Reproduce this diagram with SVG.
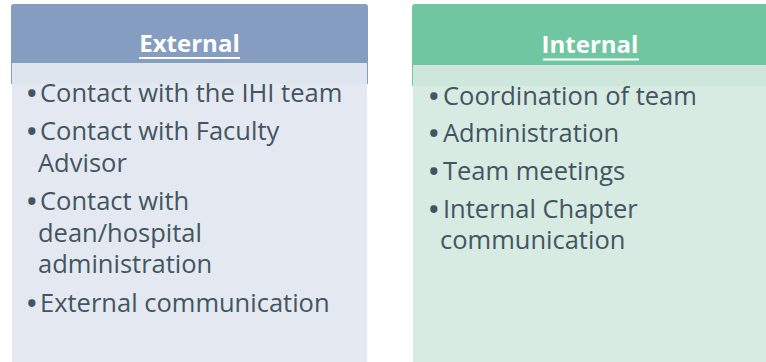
<svg xmlns="http://www.w3.org/2000/svg" width="766" height="362" viewBox="0 0 766 362">
<style>
.hdr{font-family:"Open Sans","Liberation Sans",sans-serif;font-weight:bold;font-size:24px;fill:#ffffff;text-anchor:middle}
.ul{stroke:#ffffff;stroke-width:2}
.item{font-family:"Open Sans","Liberation Sans",sans-serif;font-size:25.5px;fill:#435560}
.bul{font-weight:bold}
</style>
<rect width="766" height="362" fill="#ffffff"/>
<g id="external">
  <path d="M11,7 a3,3 0 0 1 3,-3 h351 a3,3 0 0 1 3,3 v77 h-357 z" fill="#849DC1"/>
  <rect x="12" y="63" width="355" height="299" fill="#E3E8F0" fill-opacity="0.96"/>
  <text class="hdr" x="189.5" y="52">External</text>
  <line class="ul" x1="139" y1="58" x2="240" y2="58"/>
  <text class="item" x="27" y="101.5"><tspan class="bul">•</tspan><tspan x="40">Contact with the IHI team</tspan><tspan class="bul" x="27" dy="38.5">•</tspan><tspan x="40">Contact with Faculty</tspan><tspan x="38" dy="32">Advisor</tspan><tspan class="bul" x="27" dy="38">•</tspan><tspan x="40">Contact with</tspan><tspan x="38" dy="31.5">dean/hospital</tspan><tspan x="38" dy="31.5">administration</tspan><tspan class="bul" x="27" dy="39">•</tspan><tspan x="40">External communication</tspan></text>
</g>
<g id="internal">
  <path d="M412,7 a3,3 0 0 1 3,-3 h351 v82 h-354 z" fill="#70C6A1"/>
  <rect x="413" y="65" width="353" height="297" fill="#D4EAE1" fill-opacity="0.93"/>
  <text class="hdr" x="590" y="53">Internal</text>
  <line class="ul" x1="543" y1="59.5" x2="639" y2="59.5"/>
  <text class="item" x="429" y="105"><tspan class="bul">•</tspan><tspan x="443">Coordination of team</tspan><tspan class="bul" x="429" dy="37">•</tspan><tspan x="443">Administration</tspan><tspan class="bul" x="429" dy="38">•</tspan><tspan x="443">Team meetings</tspan><tspan class="bul" x="429" dy="38">•</tspan><tspan x="443">Internal Chapter</tspan><tspan x="440" dy="31">communication</tspan></text>
</g>
<g id="connectors"></g>
</svg>
